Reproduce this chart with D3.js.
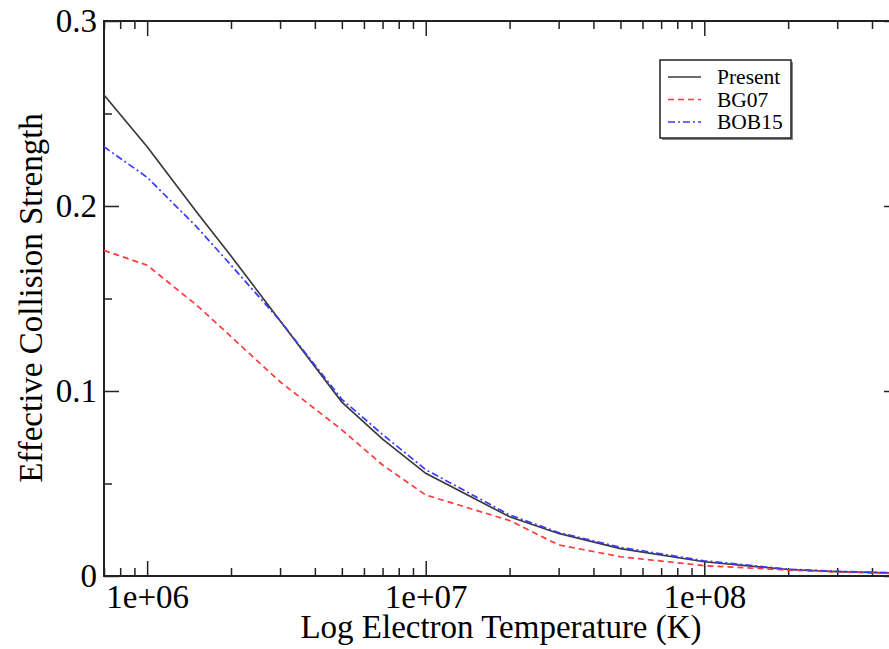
<!DOCTYPE html>
<html>
<head>
<meta charset="utf-8">
<script src="https://cdn.jsdelivr.net/npm/d3@7"></script>
<style>
  body { margin: 0; background: #fff; }
  svg { display: block; }
</style>
</head>
<body>
<div id="chart"></div>
<script>
// electron temperatures (K) and effective collision strengths
const temps   = [7e5, 1e6, 1.5e6, 2e6, 3e6, 5e6, 7e6, 1e7, 2e7, 3e7, 5e7, 1e8, 2e8, 3e8, 5e8]
const present = [0.260, 0.232, 0.197, 0.173, 0.138, 0.094, 0.074, 0.0555, 0.032, 0.023, 0.0148, 0.0077, 0.0035, 0.0024, 0.0015]
const bg07    = [0.176, 0.168, 0.1466, 0.1294, 0.105, 0.079, 0.060, 0.0438, 0.0300, 0.0168, 0.0104, 0.0056, 0.0032, 0.0022, 0.0013]
const bob15   = [0.232, 0.2155, 0.189, 0.168, 0.138, 0.0955, 0.0765, 0.0575, 0.033, 0.0235, 0.0155, 0.0082, 0.0037, 0.0025, 0.0016]

const seriesNames = ['Present', 'BG07', 'BOB15']
const xMajor = [1e6, 1e7, 1e8]
const yMajor = [0, 0.1, 0.2, 0.3]
const yMinor = [0.05, 0.15, 0.25]

const width = 889, height = 649
const font = '"Liberation Serif", "Times New Roman", serif'

let svg = d3.select('#chart').append('svg')
  .attr('width', width)
  .attr('height', height)

let x = d3.scaleLog().domain([7e5, 5e8]).range([104, 899])
let y = d3.scaleLinear().domain([0, 0.3]).range([576, 21])

// minor ticks 2..9 in each decade, inside the domain
let xMinor = []
for (let p = 5; p <= 8; p++) {
  for (let m = 2; m <= 9; m++) {
    let v = m * Math.pow(10, p)
    if (v >= 7e5 && v <= 5e8 && !xMajor.includes(v)) xMinor.push(v)
  }
}

const fmtX = d => '1e+0' + Math.round(Math.log10(d))
const fmtY = d => d === 0 ? '0' : d3.format('.1f')(d)

function styleAxis(g) {
  g.select('.domain').remove()
  g.selectAll('line').attr('stroke', '#222').attr('stroke-width', 1.5)
  g.attr('font-family', font).attr('font-size', 33)
  g.selectAll('text').attr('fill', '#000')
}

// bottom
svg.append('g').attr('transform', `translate(0,${y(0)})`)
  .call(d3.axisBottom(x).tickValues(xMajor).tickFormat(fmtX).tickSize(-15).tickPadding(9))
  .call(styleAxis)
svg.append('g').attr('transform', `translate(0,${y(0)})`)
  .call(d3.axisBottom(x).tickValues(xMinor).tickFormat('').tickSize(-8))
  .call(styleAxis)
// top
svg.append('g').attr('transform', `translate(0,${y(0.3)})`)
  .call(d3.axisTop(x).tickValues(xMajor).tickFormat('').tickSize(-15))
  .call(styleAxis)
svg.append('g').attr('transform', `translate(0,${y(0.3)})`)
  .call(d3.axisTop(x).tickValues(xMinor).tickFormat('').tickSize(-8))
  .call(styleAxis)
// left
svg.append('g').attr('transform', `translate(${x(7e5)},0)`)
  .call(d3.axisLeft(y).tickValues(yMajor).tickFormat(fmtY).tickSize(-15).tickPadding(7))
  .call(styleAxis)
svg.append('g').attr('transform', `translate(${x(7e5)},0)`)
  .call(d3.axisLeft(y).tickValues(yMinor).tickFormat('').tickSize(-8))
  .call(styleAxis)
// right
svg.append('g').attr('transform', `translate(${x(5e8)},0)`)
  .call(d3.axisRight(y).tickValues(yMajor).tickFormat('').tickSize(-15))
  .call(styleAxis)
svg.append('g').attr('transform', `translate(${x(5e8)},0)`)
  .call(d3.axisRight(y).tickValues(yMinor).tickFormat('').tickSize(-8))
  .call(styleAxis)

// frame
svg.append('rect')
  .attr('x', x(7e5)).attr('y', y(0.3))
  .attr('width', x(5e8) - x(7e5)).attr('height', y(0) - y(0.3))
  .attr('fill', 'none').attr('stroke', '#222').attr('stroke-width', 2)

// data lines
let series = [
  {name: seriesNames[0], values: present, color: '#3a3a3a', dash: null},
  {name: seriesNames[1], values: bg07, color: '#ff3b3b', dash: '6,4'},
  {name: seriesNames[2], values: bob15, color: '#3b3bff', dash: '7,3,2,3'}
]

let line = d3.line()
  .x((d, i) => x(temps[i]))
  .y(d => y(d))

let plot = svg.append('g')

plot.selectAll('path.series')
  .data(series)
  .enter()
  .append('path')
  .attr('class', 'series')
  .attr('d', d => line(d.values))
  .attr('fill', 'none')
  .attr('stroke', d => d.color)
  .attr('stroke-width', 1.7)
  .attr('stroke-dasharray', d => d.dash)

// axis titles
svg.append('text')
  .attr('x', 501).attr('y', 638)
  .attr('text-anchor', 'middle')
  .attr('font-family', font).attr('font-size', 33)
  .attr('fill', '#000')
  .text('Log Electron Temperature (K)')

svg.append('text')
  .attr('transform', 'translate(42,298) rotate(-90)')
  .attr('text-anchor', 'middle')
  .attr('font-family', font).attr('font-size', 33)
  .attr('fill', '#000')
  .text('Effective Collision Strength')

// legend
let legend = svg.append('g').attr('transform', 'translate(660,60)')

legend.append('rect')
  .attr('x', 2).attr('y', 2).attr('width', 131).attr('height', 78)
  .attr('fill', '#888')
legend.append('rect')
  .attr('width', 131).attr('height', 78)
  .attr('fill', '#fff').attr('stroke', '#222').attr('stroke-width', 1.5)

let items = legend.selectAll('g.item')
  .data(series)
  .enter()
  .append('g')
  .attr('class', 'item')
  .attr('transform', (d, i) => `translate(0,${17 + i * 22.5})`)

items.append('line')
  .attr('x1', 8).attr('x2', 41)
  .attr('stroke', d => d.color)
  .attr('stroke-width', 1.6)
  .attr('stroke-dasharray', d => d.dash)

items.append('text')
  .attr('x', 57).attr('y', 7)
  .attr('font-family', font).attr('font-size', 21.5)
  .attr('fill', '#000')
  .text(d => d.name)
</script>
</body>
</html>
